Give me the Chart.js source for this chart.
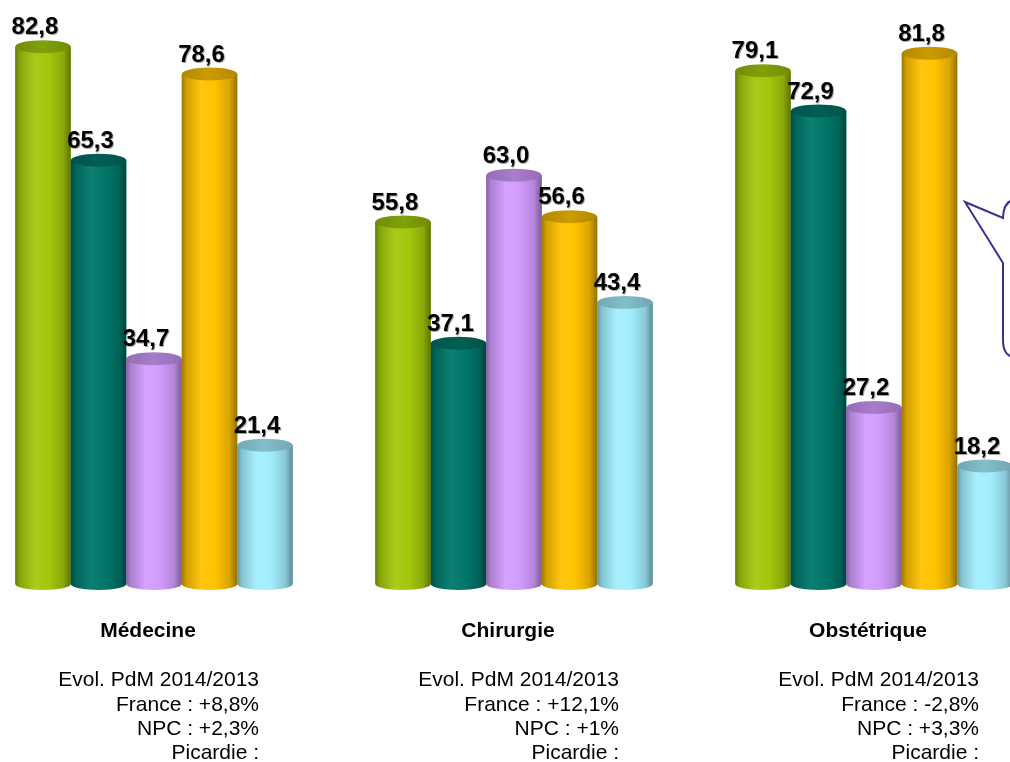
<!DOCTYPE html>
<html>
<head>
<meta charset="utf-8">
<script src="https://cdn.jsdelivr.net/npm/chart.js@4/dist/chart.umd.min.js"></script>
<style>
  html, body { margin: 0; padding: 0; background: #fff; overflow: hidden; }
  #wrap { position: absolute; left: -26px; top: 0; width: 1080px; height: 762px; }
</style>
</head>
<body>
<div id="wrap"><canvas id="pdm"></canvas></div>
<script>
// categories
var categories = ['Médecine', 'Chirurgie', 'Obstétrique'];

// series values (one value per category)
var serie1 = [82.8, 55.8, 79.1];
var serie2 = [65.3, 37.1, 72.9];
var serie3 = [34.7, 63.0, 27.2];
var serie4 = [78.6, 56.6, 81.8];
var serie5 = [21.4, 43.4, 18.2];

// evolution texts under each group
var evolTitle = 'Evol. PdM 2014/2013';
var evolFrance = ['+8,8%', '+12,1%', '-2,8%'];
var evolNPC = ['+2,3%', '+1%', '+3,3%'];

var colors = ['#a2c80c', '#00776a', '#d29cff', '#ffc200', '#a2eefe'];
var OFFSET_X = 26; // canvas starts 26px left of the page

function mix(hex, target, f) {
  var n = parseInt(hex.slice(1), 16);
  var r = (n >> 16) & 255, g = (n >> 8) & 255, b = n & 255;
  r = Math.round(r + (target - r) * f);
  g = Math.round(g + (target - g) * f);
  b = Math.round(b + (target - b) * f);
  return 'rgb(' + r + ',' + g + ',' + b + ')';
}
function dark(hex, f) { return mix(hex, 0, f); }
function light(hex, f) { return mix(hex, 255, f); }

function fmt(v) { return v.toFixed(1).replace('.', ','); }

// cylinder look + value labels + texts under groups
var cylinders = {
  id: 'cylinders',
  afterDatasetsDraw: function(chart) {
    var ctx = chart.ctx;
    ctx.save();
    chart.data.datasets.forEach(function(ds, i) {
      var meta = chart.getDatasetMeta(i);
      var c = colors[i];
      meta.data.forEach(function(bar) {
        var p = bar.getProps(['x', 'y', 'base', 'width'], true);
        var left = p.x - p.width / 2;
        var g = ctx.createLinearGradient(left, 0, left + p.width, 0);
        g.addColorStop(0, dark(c, 0.38));
        g.addColorStop(0.08, dark(c, 0.18));
        g.addColorStop(0.35, light(c, 0.06));
        g.addColorStop(0.6, c);
        g.addColorStop(0.86, dark(c, 0.15));
        g.addColorStop(1, dark(c, 0.42));
        ctx.fillStyle = g;
        ctx.fillRect(left, p.y, p.width, p.base - p.y);
        // bottom
        ctx.beginPath();
        ctx.ellipse(p.x, p.base, p.width / 2, 6, 0, 0, Math.PI);
        ctx.fill();
        // top
        var tg = ctx.createLinearGradient(left, 0, left + p.width, 0);
        tg.addColorStop(0, dark(c, 0.3));
        tg.addColorStop(0.5, dark(c, 0.2));
        tg.addColorStop(1, dark(c, 0.3));
        ctx.fillStyle = tg;
        ctx.beginPath();
        ctx.ellipse(p.x, p.y, p.width / 2, 6.5, 0, 0, 2 * Math.PI);
        ctx.fill();
      });
    });

    // value labels
    ctx.font = 'bold 24px "Liberation Sans", Arial, sans-serif';
    ctx.textAlign = 'center';
    ctx.textBaseline = 'middle';
    ctx.shadowColor = 'rgba(0,0,0,0.35)';
    ctx.shadowOffsetX = 1;
    ctx.shadowOffsetY = 1;
    ctx.fillStyle = '#000';
    chart.data.datasets.forEach(function(ds, i) {
      var meta = chart.getDatasetMeta(i);
      meta.data.forEach(function(bar, j) {
        ctx.fillText(fmt(ds.data[j]), bar.x - 8, bar.y - 19);
      });
    });
    ctx.shadowColor = 'transparent';

    // group texts
    var xs = chart.scales.x;
    categories.forEach(function(cat, j) {
      var cx = xs.getPixelForValue(j);
      ctx.fillStyle = '#000';
      ctx.font = 'bold 21px "Liberation Sans", Arial, sans-serif';
      ctx.textAlign = 'center';
      ctx.fillText(cat, cx - 6, 631);
      ctx.font = '21px "Liberation Sans", Arial, sans-serif';
      ctx.textAlign = 'right';
      var rx = cx + 105;
      ctx.fillText(evolTitle, rx, 680);
      ctx.fillText('France : ' + evolFrance[j], rx, 705);
      ctx.fillText('NPC : ' + evolNPC[j], rx, 729);
      ctx.fillText('Picardie :', rx, 753);
    });

    // callout bubble (cut by the right edge)
    ctx.strokeStyle = '#3d2f8a';
    ctx.lineWidth = 2;
    ctx.beginPath();
    ctx.moveTo(1012 + OFFSET_X, 200);
    ctx.quadraticCurveTo(1003 + OFFSET_X, 204, 1003 + OFFSET_X, 218);
    ctx.lineTo(965 + OFFSET_X, 202);
    ctx.lineTo(1003 + OFFSET_X, 263);
    ctx.lineTo(1003 + OFFSET_X, 340);
    ctx.quadraticCurveTo(1003 + OFFSET_X, 355, 1013 + OFFSET_X, 357);
    ctx.stroke();
    ctx.restore();
  }
};

new Chart(document.getElementById('pdm'), {
  type: 'bar',
  data: {
    labels: categories,
    datasets: [
      { label: 'Série 1', data: serie1, backgroundColor: colors[0] },
      { label: 'Série 2', data: serie2, backgroundColor: colors[1] },
      { label: 'Série 3', data: serie3, backgroundColor: colors[2] },
      { label: 'Série 4', data: serie4, backgroundColor: colors[3] },
      { label: 'Série 5', data: serie5, backgroundColor: colors[4] }
    ]
  },
  options: {
    responsive: true,
    maintainAspectRatio: false,
    animation: false,
    layout: { padding: { top: 0, bottom: 178, left: 0, right: 0 } },
    datasets: { bar: { categoryPercentage: 0.771, barPercentage: 1 } },
    plugins: { legend: { display: false }, tooltip: { enabled: false } },
    scales: {
      x: { display: false },
      y: { display: false, min: 0, max: 90 }
    }
  },
  plugins: [cylinders]
});
</script>
</body>
</html>
